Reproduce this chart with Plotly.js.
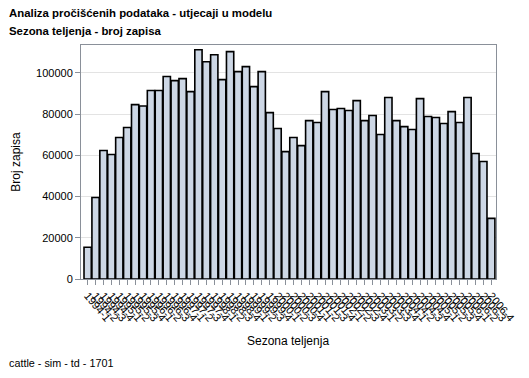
<!DOCTYPE html>
<html>
<head>
<meta charset="utf-8">
<script src="https://cdn.plot.ly/plotly-3.0.1.min.js"></script>
<style>
html,body{margin:0;padding:0;background:#fff;}
#chart{width:529px;height:378px;}
</style>
</head>
<body>
<div id="chart"></div>
<script>
// Calving seasons (year-season)
const years = [1994,1995,1996,1997,1998,1999,2000,2001,2002,2003,2004,2005,2006];
const seasons = [1,2,3,4];
const categories = [];
years.forEach(y => seasons.forEach(s => categories.push(y + "-" + s)));

// Number of records per calving season
const recordCounts = [
  15400, 39500, 62300, 60400, 68600, 73500, 84600, 83900, 91400, 91400, 98200, 96200, 97200,
  90900, 111200, 105400, 108800, 96700, 110300, 100600, 103000, 93300, 100600, 80700, 73000, 61800,
  68600, 64700, 76800, 75900, 90900, 82200, 82700, 81700, 86500, 76800, 79300, 70100, 88000,
  76800, 73900, 72500, 87500, 78800, 78300, 75400, 81200, 75900, 88000, 60900, 57000, 29400
];

const yTicks = [0, 20000, 40000, 60000, 80000, 100000];

const fontFam = '"Liberation Sans", Arial, sans-serif';

const trace = {
  type: 'bar',
  x: categories,
  y: recordCounts,
  marker: {color: '#cdd7e5', line: {color: '#000000', width: 1.6}},
  hoverinfo: 'x+y'
};

const plotL = 81, plotR = 496, plotT = 45, plotB = 279;
const plotW = plotR - plotL, plotH = plotB - plotT;
function px2paperX(px){ return (px - plotL) / plotW; }
function py2paperY(py){ return (plotB - py) / plotH; }

const layout = {
  width: 529, height: 378,
  margin: {l: plotL, r: 529 - plotR, t: plotT, b: 378 - plotB},
  paper_bgcolor: '#ffffff',
  plot_bgcolor: '#ffffff',
  showlegend: false,
  bargap: 0.08,
  font: {family: fontFam, size: 11, color: '#000'},
  xaxis: {
    type: 'category',
    range: [-0.84, 51.6],
    tickmode: 'array',
    tickvals: categories,
    ticktext: categories,
    tickangle: 50,
    ticks: 'outside', ticklen: 5, tickcolor: '#8a9099',
    showline: true, linecolor: '#8a9099', linewidth: 1, mirror: true,
    showgrid: false,
    tickfont: {family: fontFam, size: 11, color: '#000'},
    automargin: false
  },
  yaxis: {
    range: [0, 113500],
    tickvals: yTicks,
    ticktext: yTicks.map(String),
    ticks: 'outside', ticklen: 5, tickcolor: '#8a9099',
    showline: true, linecolor: '#8a9099', linewidth: 1, mirror: true,
    showgrid: true, gridcolor: '#e3e3e3', gridwidth: 1,
    zeroline: false,
    tickfont: {family: fontFam, size: 11, color: '#000'},
    title: {text: 'Broj zapisa', font: {family: fontFam, size: 12, color: '#000'}, standoff: 12},
    automargin: false
  },
  annotations: [
    {text: '<b>Analiza pročišćenih podataka - utjecaji u modelu</b>', xref: 'paper', yref: 'paper',
     x: px2paperX(7), y: py2paperY(13), xanchor: 'left', yanchor: 'middle', showarrow: false,
     font: {family: fontFam, size: 11.4, color: '#000'}},
    {text: '<b>Sezona teljenja - broj zapisa</b>', xref: 'paper', yref: 'paper',
     x: px2paperX(7), y: py2paperY(31), xanchor: 'left', yanchor: 'middle', showarrow: false,
     font: {family: fontFam, size: 11.4, color: '#000'}},
    {text: 'Sezona teljenja', xref: 'paper', yref: 'paper',
     x: px2paperX(288), y: py2paperY(341), xanchor: 'center', yanchor: 'middle', showarrow: false,
     font: {family: fontFam, size: 12, color: '#000'}},
    {text: 'cattle - sim - td - 1701', xref: 'paper', yref: 'paper',
     x: px2paperX(7), y: py2paperY(363), xanchor: 'left', yanchor: 'middle', showarrow: false,
     font: {family: fontFam, size: 10.8, color: '#000'}}
  ]
};

Plotly.newPlot('chart', [trace], layout, {displayModeBar: false, staticPlot: true});
</script>
</body>
</html>
